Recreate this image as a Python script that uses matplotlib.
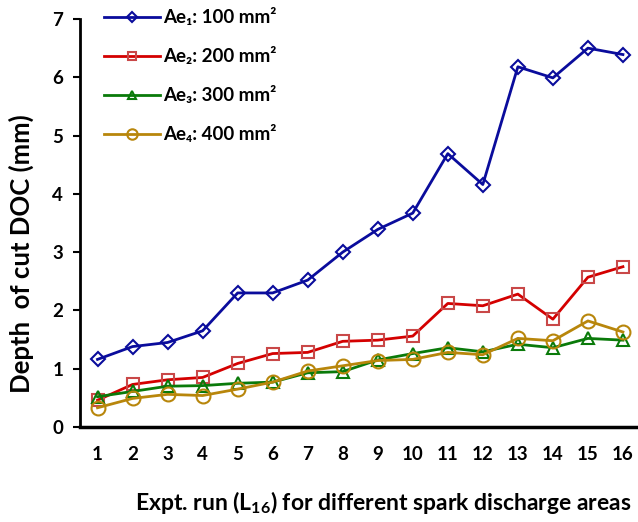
import matplotlib
matplotlib.use("Agg")
import matplotlib.pyplot as plt

# Depth of cut for each experimental run, per spark discharge area
runs = list(range(1, 17))
doc_ae1 = [1.16, 1.38, 1.45, 1.65, 2.30, 2.30, 2.52, 3.00, 3.39, 3.67, 4.69, 4.16, 6.18, 5.99, 6.50, 6.39]
doc_ae2 = [0.46, 0.73, 0.81, 0.85, 1.09, 1.26, 1.28, 1.47, 1.49, 1.56, 2.12, 2.08, 2.28, 1.85, 2.57, 2.75]
doc_ae3 = [0.52, 0.61, 0.70, 0.71, 0.75, 0.77, 0.93, 0.95, 1.15, 1.26, 1.36, 1.29, 1.42, 1.36, 1.52, 1.49]
doc_ae4 = [0.33, 0.49, 0.56, 0.54, 0.65, 0.77, 0.96, 1.05, 1.14, 1.16, 1.28, 1.24, 1.52, 1.48, 1.82, 1.63]
series_labels = ["Ae\u2081: 100 mm\u00b2", "Ae\u2082: 200 mm\u00b2", "Ae\u2083: 300 mm\u00b2", "Ae\u2084: 400 mm\u00b2"]

FONT = ["Lato", "DejaVu Sans"]
plt.rcParams["font.family"] = FONT
plt.rcParams["font.weight"] = "bold"
plt.rcParams["mathtext.fontset"] = "custom"
plt.rcParams["mathtext.rm"] = "Lato:bold"
plt.rcParams["mathtext.bf"] = "Lato:bold"
plt.rcParams["mathtext.it"] = "Lato:bold"

fig = plt.figure(figsize=(6.38, 5.22), dpi=100)
ax = fig.add_axes([80 / 638, 95 / 522, 558 / 638, 408 / 522])

styles = [
    dict(color="#0a0c9c", marker="D", mec="#0a0c9c", ms=7),
    dict(color="#d40000", marker="s", mec="#c94848", ms=8),
    dict(color="#0a7a0a", marker="^", mec="#0a7a0a", ms=8),
    dict(color="#b8860b", marker="o", mec="#b8860b", ms=10),
]
for vals, lab, st in zip([doc_ae1, doc_ae2, doc_ae3, doc_ae4], series_labels, styles):
    ax.plot(runs, vals, color=st["color"], lw=2.0, marker=st["marker"],
            ms=st["ms"], mfc="none", mec=st["mec"], mew=1.5, label=lab)

ax.set_xlim(0.5, 16.43)
ax.set_ylim(0, 7)
ax.set_xticks(runs)
ax.set_yticks(range(0, 8))
ax.tick_params(axis="x", length=0, pad=14, labelsize=13.5)
ax.tick_params(axis="y", direction="out", length=5, width=1.5, pad=7, labelsize=13.5)
for lbl in ax.get_xticklabels() + ax.get_yticklabels():
    lbl.set_fontweight("bold")

for side in ("top", "right"):
    ax.spines[side].set_visible(False)
ax.spines["left"].set_linewidth(2)
ax.spines["bottom"].set_linewidth(2.5)

ax.set_ylabel("Depth  of cut DOC (mm)", fontsize=18.5, fontweight="bold",
              va="center")
ax.yaxis.set_label_coords(-59 / 558, 0.425)
ax.set_xlabel("Expt. run (L$_{16}$) for different spark discharge areas",
              fontsize=16.5, fontweight="bold", va="center")
ax.xaxis.set_label_coords(0.543, -75 / 408)

leg = ax.legend(loc="upper left", bbox_to_anchor=(0.03, 1.045), frameon=False,
                prop=dict(family=FONT, weight="bold", size=13.5),
                handlelength=3.0, labelspacing=1.12, handletextpad=0.15,
                borderaxespad=0.0, markerscale=0.75)

fig.savefig("out.png", dpi=100)
